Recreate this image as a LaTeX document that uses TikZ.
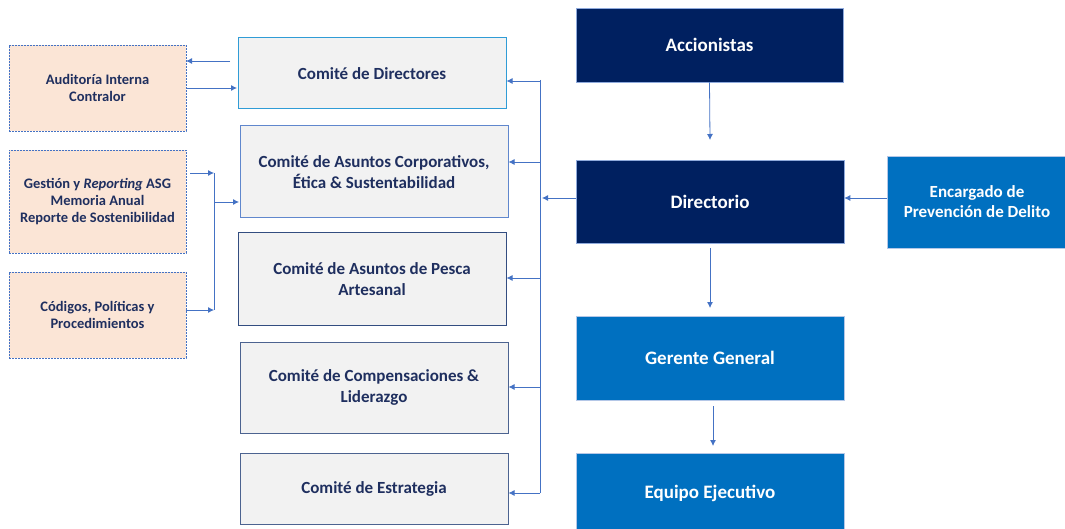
\documentclass[tikz,border=0pt]{standalone}
\usepackage{fontspec}
\setmainfont{Carlito}
\usetikzlibrary{arrows.meta}
\definecolor{navy}{HTML}{002060}
\definecolor{midblue}{HTML}{0070C0}
\definecolor{lineblue}{HTML}{4472C4}
\definecolor{peach}{HTML}{FBE5D6}
\definecolor{lgray}{HTML}{F2F2F2}
\definecolor{txtnavy}{HTML}{1F2F5F}
\tikzset{
  leftbox/.style={draw=lineblue, dash pattern=on 2pt off 1pt, fill=peach, line width=0.9pt, align=center, font=\bfseries\fontsize{14.5}{17}\selectfont, text=txtnavy, inner sep=0pt},
  combox/.style={draw=lineblue, fill=lgray, line width=1pt, align=center, font=\bfseries\fontsize{17}{21}\selectfont, text=txtnavy, inner sep=0pt},
  darkbox/.style={fill=navy, draw=lineblue!60, line width=0.6pt, align=center, font=\bfseries\fontsize{19}{22}\selectfont, text=white, inner sep=0pt},
  bluebox/.style={fill=midblue, draw=lineblue!40, line width=0.6pt, align=center, font=\bfseries\fontsize{19}{22}\selectfont, text=white, inner sep=0pt},
  conn/.style={draw=lineblue, line width=0.8pt, -{Latex[length=6pt,width=6pt]}},
  plain/.style={draw=lineblue, line width=0.8pt}
}
\begin{document}
\begin{tikzpicture}[x=1pt,y=-1pt]
\useasboundingbox (0,0) rectangle (1065,529);
% left boxes
\node[leftbox, minimum width=177pt, minimum height=86pt] (aud) at (97.5,88) {Auditoría Interna\\Contralor};
\node[leftbox, minimum width=177pt, minimum height=103pt] (ges) at (97.5,201.5) {Gestión y \textit{Reporting} ASG\\Memoria Anual\\Reporte de Sostenibilidad};
\node[leftbox, minimum width=177pt, minimum height=86pt] (cod) at (97.5,315) {Códigos, Políticas y\\Procedimientos};
% committees
\node[combox, minimum width=268pt, minimum height=71pt, draw=lineblue!70!cyan] (cdir) at (372,73.5) {Comité de Directores};
\node[combox, minimum width=268pt, minimum height=92pt, draw=lineblue!85] (casc) at (374,172) {Comité de Asuntos Corporativos,\\Ética \& Sustentabilidad};
\node[combox, minimum width=268pt, minimum height=92pt, draw=navy!80] (cpes) at (372,279) {Comité de Asuntos de Pesca\\Artesanal};
\node[combox, minimum width=268pt, minimum height=91pt, draw=navy!70] (ccom) at (374,387.5) {Comité de Compensaciones \&\\Liderazgo};
\node[combox, minimum width=268pt, minimum height=71pt, draw=navy!70] (cest) at (374,488.5) {Comité de Estrategia};
% right column
\node[darkbox, minimum width=267pt, minimum height=74pt] (acc) at (709.5,45) {Accionistas};
\node[darkbox, minimum width=268pt, minimum height=83pt] (dir) at (710,201.5) {Directorio};
\node[bluebox, minimum width=180pt, minimum height=92pt, font=\bfseries\fontsize{17}{20}\selectfont] (enc) at (977,202) {Encargado de\\Prevención de Delito};
\node[bluebox, minimum width=268pt, minimum height=84pt] (ger) at (710,358) {Gerente General};
\node[bluebox, minimum width=268pt, minimum height=80pt] (eq) at (710,493) {Equipo Ejecutivo};
% coordinates
\coordinate (a1) at (230,61);
\coordinate (a2) at (186,61);
\coordinate (b1) at (186,88);
\coordinate (b2) at (237,88);
\coordinate (g1) at (190,173);
\coordinate (g2) at (214,173);
\coordinate (c1) at (186,310);
\coordinate (c2) at (214,310);
\coordinate (m1) at (214,202);
\coordinate (m2) at (239,202);
\coordinate (bt) at (540,80);
\coordinate (bb) at (540,493);
\coordinate (d1) at (576,198);
\coordinate (d2) at (542,198);
% connectors
\draw[conn] (a1) -- (a2);
\draw[conn] (b1) -- (b2);
\draw[conn] (g1) -- (g2);
\draw[conn] (c1) -- (c2);
\draw[plain] (g2) -- (c2);
\draw[conn] (m1) -- (m2);
\draw[plain] (bt) -- (bb);
\draw[conn] (540,81) -- (cdir.east |- 0,81);
\draw[conn] (540,162) -- (casc.east |- 0,162);
\draw[conn] (540,278) -- (cpes.east |- 0,278);
\draw[conn] (540,387) -- (ccom.east |- 0,387);
\draw[conn] (540,493) -- (cest.east |- 0,493);
\draw[conn] (d1) -- (d2);
\draw[conn] (acc.south) -- (710,140);
\draw[conn] (enc.west |- 0,198) -- (dir.east |- 0,198);
\draw[conn] (710,248) -- (710,308);
\draw[conn] (713,406) -- (713,446);
\end{tikzpicture}
\end{document}
